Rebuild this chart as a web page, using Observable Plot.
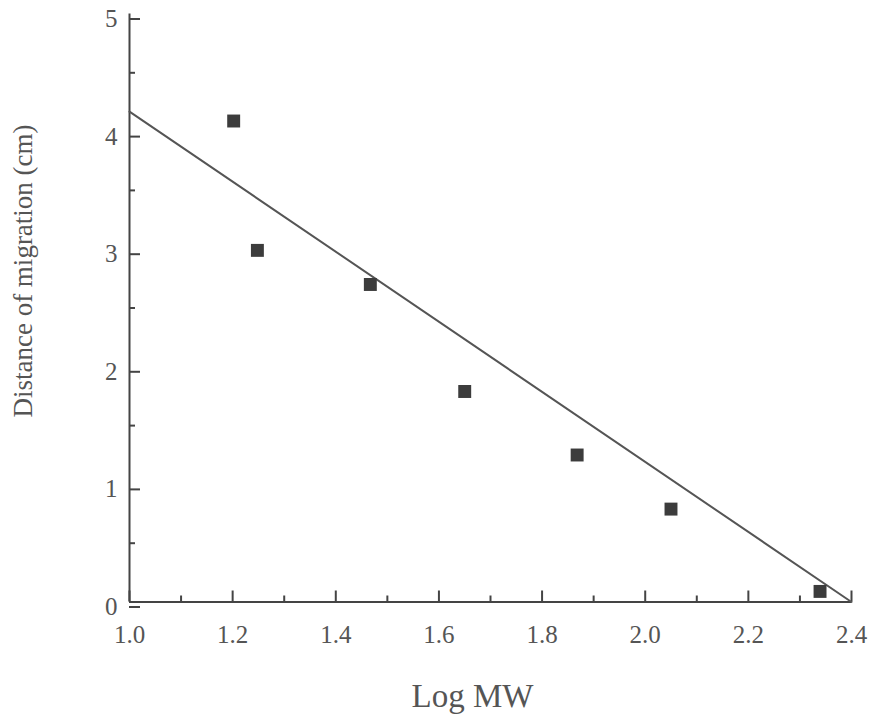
<!DOCTYPE html>
<html><head><meta charset="utf-8">
<script src="https://cdn.jsdelivr.net/npm/d3@7"></script>
<script src="https://cdn.jsdelivr.net/npm/@observablehq/plot@0.6"></script>
<style>body{margin:0;background:#fff}</style>
</head><body><div id="chart"></div>
<script>
const logMW = [1.202, 1.248, 1.467, 1.650, 1.868, 2.050, 2.339];
const distance = [4.09, 2.99, 2.70, 1.79, 1.25, 0.79, 0.09];
const fitX = [1.0, 2.4];
const fitY = [4.17, 0.0];
const xMajorTicks = [1.0, 1.2, 1.4, 1.6, 1.8, 2.0, 2.2, 2.4];
const xMinorTicks = [1.1, 1.3, 1.5, 1.7, 1.9, 2.1, 2.3];
const yMajorTicks = [0, 1, 2, 3, 4, 5];
const yMinorTicks = [0.5, 1.5, 2.5, 3.5, 4.5];
const xTitle = "Log MW";
const yTitle = "Distance of migration (cm)";

const points = logMW.map((x, i) => ({x, y: distance[i]}));
const fit = fitX.map((x, i) => ({x, y: fitY[i]}));
const ink = "#444";
const textInk = "#555";

const chart = Plot.plot({
  width: 871, height: 714,
  marginLeft: 129, marginRight: 20, marginTop: 13.5, marginBottom: 112.5,
  style: {fontFamily: "'Liberation Serif', 'Times New Roman', serif", fontSize: "24px", color: textInk, background: "#fff"},
  x: {domain: [1.0, 2.4], label: null},
  y: {domain: [0, 5], label: null},
  marks: [
    Plot.ruleX([1.0], {stroke: ink, strokeWidth: 2}),
    Plot.ruleY([0], {stroke: ink, strokeWidth: 2}),
    Plot.axisY({ticks: yMajorTicks, tickSize: -11, tickPadding: 23, dy: 5, tickFormat: d => String(d), fontSize: 25, stroke: ink, strokeWidth: 2, fill: textInk, label: null}),
    Plot.axisY({ticks: yMinorTicks, tickSize: -6, tickFormat: () => "", stroke: ink, strokeWidth: 2, label: null}),
    Plot.axisX({ticks: xMajorTicks, tickSize: -11, tickPadding: 34.5, tickFormat: d3.format(".1f"), fontSize: 25, stroke: ink, strokeWidth: 2, fill: textInk, label: null}),
    Plot.axisX({ticks: xMinorTicks, tickSize: -6, tickFormat: () => "", stroke: ink, strokeWidth: 2, label: null}),
    Plot.line(fit, {x: "x", y: "y", stroke: "#555", strokeWidth: 2}),
    Plot.dot(points, {x: "x", y: "y", symbol: "square", r: 7.3, fill: "#3c3c3c", stroke: "none"}),
    Plot.text([xTitle], {frameAnchor: "bottom", dx: -18, dy: 94.5, lineAnchor: "middle", textAnchor: "middle", fontSize: 33, fill: textInk}),
    Plot.text([yTitle], {frameAnchor: "left", dx: -106, dy: -37, rotate: -90, lineAnchor: "middle", textAnchor: "middle", fontSize: 27, fill: textInk})
  ]
});
document.getElementById("chart").append(chart);
</script>
</body></html>
